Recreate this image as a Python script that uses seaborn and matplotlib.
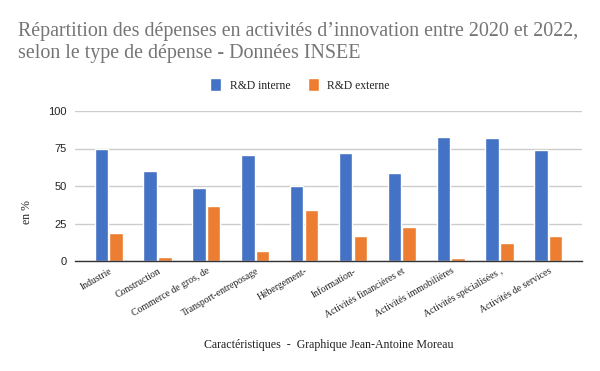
import matplotlib
matplotlib.use("Agg")
import matplotlib.pyplot as plt
import matplotlib.transforms as mtransforms
import seaborn as sns
import pandas as pd
from matplotlib.patches import Patch

categories = ["Industrie", "Construction", "Commerce de gros, de", "Transport-entreposage",
              "Hébergement-", "Information-", "Activités financières et",
              "Activités immobilières", "Activités spécialisées ,", "Activités de services"]
rd_interne = [75, 60, 49, 71, 50, 72, 59, 83, 82, 74]
rd_externe = [19, 3, 37, 7, 34, 17, 23, 2, 12, 17]
series = ["R&D interne", "R&D externe"]
yticks = [0, 25, 50, 75, 100]

df = pd.DataFrame({
    "cat": categories * 2,
    "val": rd_interne + rd_externe,
    "serie": [series[0]] * len(categories) + [series[1]] * len(categories),
})

sns.set_theme(style="white")
plt.rcParams["font.family"] = ["Liberation Serif", "DejaVu Serif"]

fig = plt.figure(figsize=(6, 3.71), dpi=100)
ax = fig.add_axes([75/600, 1-261/371, 507/600, 150/371])

sns.barplot(data=df, x="cat", y="val", hue="serie", order=categories,
            hue_order=series, palette=["#4472C4", "#ED7D31"],
            width=0.6, gap=0.08, saturation=1, ax=ax, legend=False)

ax.set_ylim(0, 100)
ax.set_xlim(-0.69, 9.69)
ax.set_yticks(yticks)
ax.set_yticklabels([str(t) for t in yticks], family="Liberation Sans", fontsize=8, color="#222222")
ax.yaxis.grid(True, color="#cccccc", linewidth=1)
ax.set_axisbelow(True)
for s in ["left", "right", "top"]:
    ax.spines[s].set_visible(False)
ax.spines["bottom"].set_color("#333333")
ax.spines["bottom"].set_linewidth(1)
ax.tick_params(axis="both", length=0)
ax.tick_params(axis="y", pad=6)
ax.tick_params(axis="x", pad=4)
ax.set_xlabel("")
ax.set_ylabel("")

offset = mtransforms.ScaledTranslation(5/100, 0, fig.dpi_scale_trans)
for lab in ax.get_xticklabels():
    lab.set_rotation(30)
    lab.set_ha("right")
    lab.set_va("top")
    lab.set_fontsize(7)
    lab.set_color("#222222")
    lab.set_transform(lab.get_transform() + offset)

fig.text(18/600, 1-36/371, "Répartition des dépenses en activités d’innovation entre 2020 et 2022,",
         fontsize=14.4, color="#757575", va="baseline", ha="left")
fig.text(18/600, 1-58/371, "selon le type de dépense - Données INSEE",
         fontsize=14.4, color="#757575", va="baseline", ha="left")

fig.text(328.5/600, 1-345/371, "Caractéristiques  -  Graphique Jean-Antoine Moreau",
         fontsize=8.6, color="#222222", ha="center", va="center")
fig.text(27/600, 1-212/371, "en %", fontsize=8.5, color="#222222", rotation=90,
         ha="center", va="center")

handles = [Patch(facecolor="#4472C4"), Patch(facecolor="#ED7D31")]
fig.legend(handles, series, loc="center", bbox_to_anchor=(300/600, 1-85/371), ncol=2,
           frameon=False, fontsize=8.4, handlelength=0.95, handleheight=1.3,
           handletextpad=0.75, columnspacing=1.45, labelcolor="#222222")

fig.savefig("out.png", dpi=100)
